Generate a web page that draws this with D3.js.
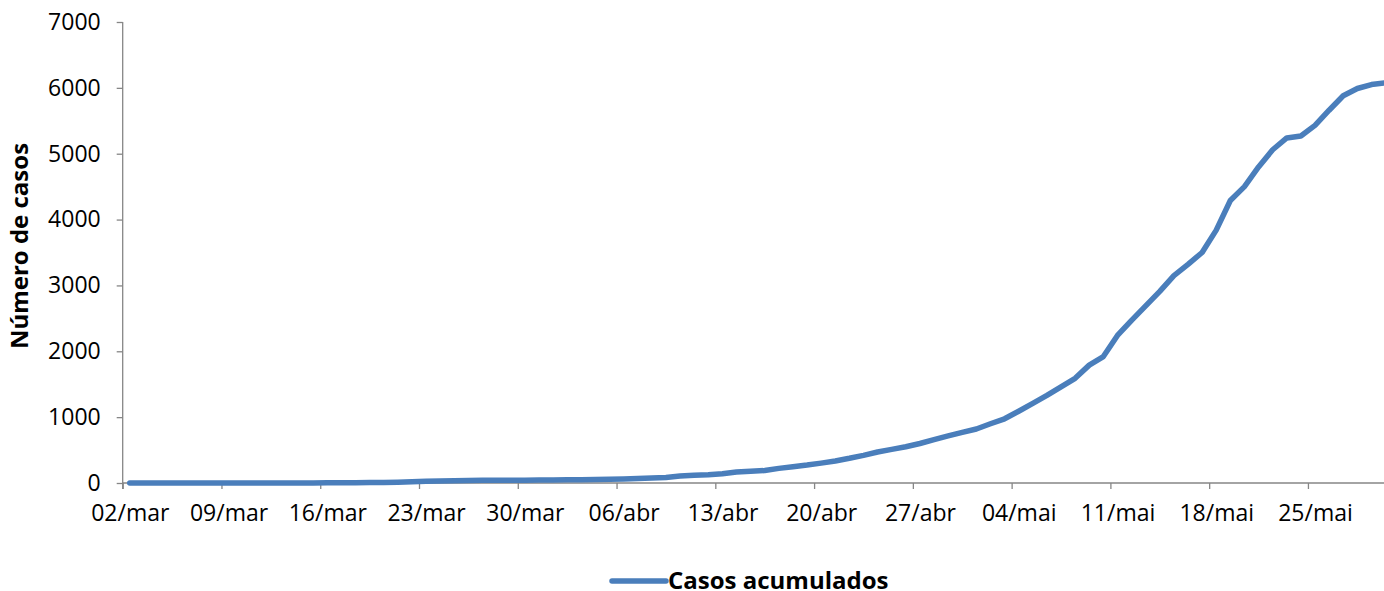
<!DOCTYPE html>
<html>
<head>
<meta charset="utf-8">
<script src="https://cdn.jsdelivr.net/npm/d3@7"></script>
<style>
	body { margin: 0; background: #fff; }
	text { font-family: "Open Sans", sans-serif; fill: #000; }
</style>
</head>
<body>
<svg id="chart" width="1384" height="591"></svg>
<script>
// cumulative cases, one value per day starting 02/mar
var startDate = new Date(2020, 2, 2);
var casos = [
	0, 0, 0, 0, 0, 0, 0, 0, 0, 0,
	0, 0, 0, 1, 2, 3, 5, 7, 9, 12,
	18, 25, 30, 35, 38, 40, 41, 42, 42, 44,
	46, 48, 50, 52, 56, 62, 68, 75, 85, 105,
	118, 125, 140, 168, 178, 190, 222, 248, 272, 302,
	335, 375, 420, 470, 510, 550, 600, 660, 715, 770,
	820, 900, 975, 1090, 1210, 1330, 1460, 1590, 1790, 1920,
	2240, 2470, 2690, 2910, 3150, 3320, 3500, 3840, 4290, 4500,
	4800, 5060, 5240, 5270, 5430, 5660, 5880, 5990, 6050, 6075
];
var tickLabels = ["02/mar", "09/mar", "16/mar", "23/mar", "30/mar", "06/abr", "13/abr",
	"20/abr", "27/abr", "04/mai", "11/mai", "18/mai", "25/mai"];
var yTicks = [0, 1000, 2000, 3000, 4000, 5000, 6000, 7000];
var seriesName = "Casos acumulados";
var yTitle = "Número de casos";

var data = casos.map(function(v, i) {
	return { date: d3.timeDay.offset(startDate, i), value: v };
});

var svg = d3.select("#chart");
var plotLeft = 122.7, plotTop = 22, plotBottom = 483, dayW = 14.11;

var x = d3.scaleTime()
	.domain([startDate, d3.timeDay.offset(startDate, 90)])
	.range([plotLeft, plotLeft + dayW * 90]);
var y = d3.scaleLinear().domain([0, 7000]).range([plotBottom, plotTop]);

var weekDates = tickLabels.map(function(t, i) { return d3.timeDay.offset(startDate, i * 7); });
var halfDay = dayW / 2;

// x axis
var xAxis = svg.append("g")
	.attr("transform", "translate(0," + plotBottom + ")")
	.call(d3.axisBottom(x)
		.tickValues(weekDates)
		.tickSize(6)
		.tickPadding(16)
		.tickFormat(function(d, i) { return tickLabels[i]; }));
xAxis.select(".domain").attr("d", "M" + plotLeft + ",0H1384");
xAxis.selectAll("text").attr("x", halfDay).style("font-size", "23px");

// y axis
var yAxis = svg.append("g")
	.attr("transform", "translate(" + plotLeft + ",0)")
	.call(d3.axisLeft(y).tickValues(yTicks).tickSize(6).tickPadding(16).tickFormat(d3.format("d")));
yAxis.selectAll("text").style("font-size", "23px");
yAxis.select(".domain").attr("d", "M0," + plotTop + "V" + (plotBottom + 6));

svg.selectAll(".domain, .tick line").attr("stroke", "#868686").attr("stroke-width", 1.3);
svg.selectAll(".tick text").attr("fill", "#000");

// y title
svg.append("text")
	.attr("transform", "translate(28,246) rotate(-90)")
	.attr("text-anchor", "middle")
	.style("font-size", "24px")
	.style("font-weight", "bold")
	.text(yTitle);

// series line
var line = d3.line()
	.x(function(d) { return x(d.date) + halfDay; })
	.y(function(d) { return y(d.value); });

svg.append("path")
	.datum(data)
	.attr("d", line)
	.attr("fill", "none")
	.attr("stroke", "#4a7ebb")
	.attr("stroke-width", 5.5)
	.attr("stroke-linejoin", "round")
	.attr("stroke-linecap", "round");

// legend
var legend = svg.append("g").attr("transform", "translate(612,581)");
legend.append("line")
	.attr("x1", 0).attr("x2", 54)
	.attr("stroke", "#4a7ebb").attr("stroke-width", 5.5).attr("stroke-linecap", "round");
legend.append("text")
	.attr("x", 56).attr("y", 8)
	.style("font-size", "24px")
	.style("font-weight", "bold")
	.text(seriesName);
</script>
</body>
</html>
